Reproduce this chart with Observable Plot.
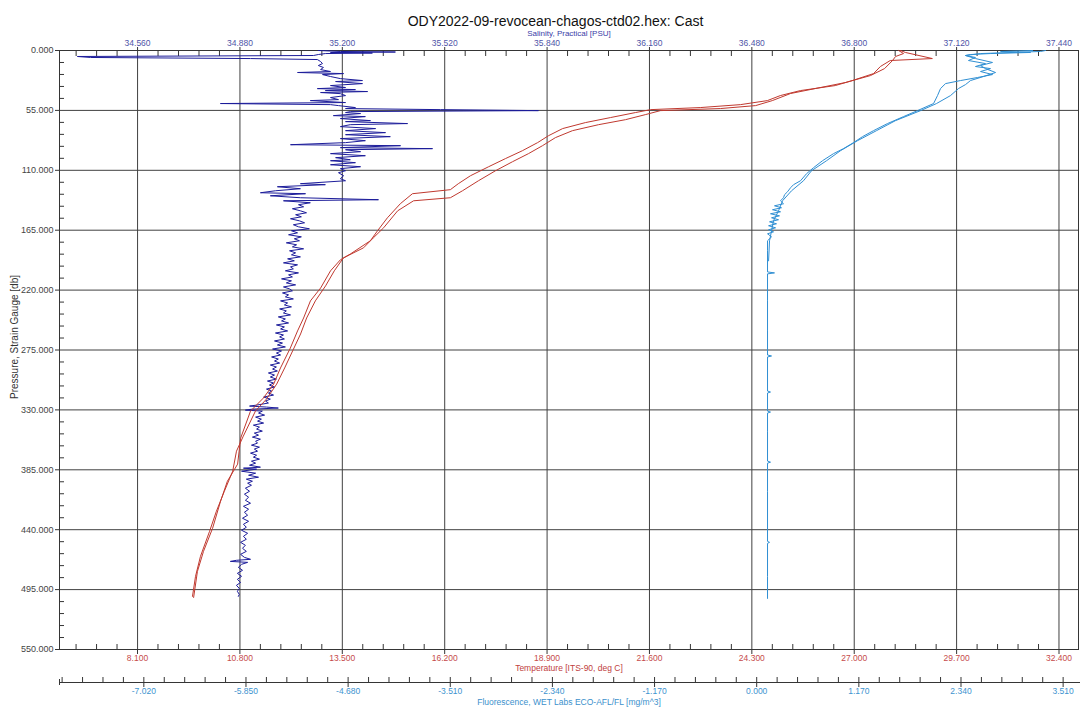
<!DOCTYPE html>
<html><head><meta charset="utf-8">
<script src="https://cdn.jsdelivr.net/npm/d3@7"></script>
<script src="https://cdn.jsdelivr.net/npm/@observablehq/plot@0.6"></script>
<style>html,body{margin:0;padding:0;background:#fff;} svg{display:block}</style>
</head><body><div id="chart"></div>
<script>
// ---- tick labels ----
const salinityTicks = [34.56, 34.88, 35.2, 35.52, 35.84, 36.16, 36.48, 36.8, 37.12, 37.44];
const temperatureTicks = [8.1, 10.8, 13.5, 16.2, 18.9, 21.6, 24.3, 27.0, 29.7, 32.4];
const fluorescenceTicks = [-7.02, -5.85, -4.68, -3.51, -2.34, -1.17, 0, 1.17, 2.34, 3.51];
const pressureTicks = [0, 55, 110, 165, 220, 275, 330, 385, 440, 495, 550];

// ---- axis extents ----
const salDomain = [34.316, 37.501];
const tempDomain = [6.043, 32.914];
const fluorDomain = [-7.986, 3.686];
const pressureDomain = [0, 550];

// ---- Salinity (one noisy trace) ----
const salPressure = [0,0.9,1.4,1.8,2.3,2.8,3.7,4.6,5.5,6.4,7.4,8.3,10.1,12.0,13.8,15.6,17.5,19.3,20.2,21.2,22.1,23.9,25.8,27.6,28.5,30.4,32.2,34.0,35.0,35.9,36.8,37.7,38.6,39.6,41.4,43.2,45.1,46.0,47.8,48.7,49.7,50.6,52.4,53.3,54.3,55.2,56.1,57.0,57.9,59.8,60.7,62.5,64.4,65.3,67.1,68.1,69.9,71.7,73.6,75.4,77.3,79.1,80.9,82.8,84.6,86.5,87.4,89.2,90.1,91.1,92.9,94.7,96.6,98.4,100.3,101.2,103.0,104.9,106.7,108.5,110.4,112.2,115.0,117.7,119.6,122.3,123.2,125.1,126.9,128.8,130.6,131.5,133.4,135.2,137.0,
  138.0,139.8,141.6,143.5,145.3,147.2,149.0,150.8,152.7,154.5,156.4,158.2,160.0,161.9,163.7,165.5,167.4,169.2,171.1,172.9,174.7,176.6,178.4,180.3,182.1,183.9,185.8,187.6,189.5,191.3,193.1,195.0,196.8,198.7,200.5,202.3,204.2,206.0,207.9,209.7,211.5,213.4,215.2,217.1,218.9,220.7,222.6,224.4,226.2,228.1,229.9,231.8,233.6,235.4,237.3,239.1,241.0,242.8,244.6,246.5,248.3,250.2,252.0,253.8,255.7,257.5,259.4,261.2,263.0,264.9,266.7,268.6,270.4,272.2,274.1,275.9,277.8,279.6,281.4,283.3,285.1,287.0,288.8,290.6,292.5,294.3,296.1,298.0,299.8,301.7,303.5,305.3,307.2,309.0,310.9,312.7,314.5,316.4,318.2,320.1,321.9,323.7,325.6,326.5,327.4,328.3,329.3,330.2,331.1,332.9,334.8,336.6,338.5,340.3,342.1,344.0,345.8,347.6,349.5,351.3,353.2,355.0,356.9,358.7,360.5,362.4,364.2,366.0,367.9,369.7,371.6,373.4,375.2,377.1,378.9,380.8,382.6,383.5,384.4,386.3,388.1,390.0,391.8,393.6,395.5,397.3,399.2,401.9,404.7,407.4,410.2,413.0,415.7,418.5,421.2,424.0,426.7,429.5,432.3,435.0,437.8,440.5,443.3,446.1,448.8,451.6,454.3,457.1,459.9,462.6,465.4,467.2,468.1,469.1,470.0,471.8,474.6,477.3,480.1,482.8,485.6,488.4,491.1,493.9,496.6,499.4,501.2];
const salinity = [35.125,35.194,35.366,35.163,35.294,35.147,35.125,35.110,34.372,34.413,34.913,35.122,35.132,35.138,35.125,35.141,35.132,35.163,35.060,35.204,35.138,35.163,35.194,35.263,35.179,35.263,35.163,35.210,35.122,35.241,35.147,35.279,35.132,35.194,35.210,35.163,35.188,35.100,35.210,34.819,35.163,35.188,35.241,35.210,35.507,35.813,35.225,35.210,35.257,35.172,35.272,35.194,35.288,35.210,35.404,35.225,35.194,35.304,35.210,35.335,35.210,35.350,35.194,35.272,35.210,35.038,35.382,35.194,35.482,35.210,35.257,35.163,35.272,35.179,35.225,35.163,35.241,35.163,35.257,35.194,35.210,35.188,35.204,35.194,35.210,35.069,35.147,34.997,35.069,34.991,34.944,35.085,34.975,35.069,35.313,
  35.016,35.100,35.063,35.079,35.044,35.069,35.088,35.054,35.072,35.038,35.066,35.082,35.047,35.063,35.097,35.041,35.060,35.032,35.072,35.050,35.066,35.025,35.057,35.044,35.079,35.035,35.054,35.041,35.069,35.029,35.050,35.016,35.060,35.038,35.047,35.022,35.063,35.032,35.044,35.010,35.041,35.025,35.054,35.016,35.035,35.044,35.013,35.032,35.022,35.047,35.007,35.029,35.019,35.041,35.004,35.025,35.016,35.038,35.000,35.022,35.010,35.032,34.994,35.019,35.007,35.029,34.991,35.016,35.004,35.019,34.988,35.013,34.997,35.022,34.982,35.010,34.994,35.007,34.979,35.000,34.988,35.004,34.975,34.994,34.982,34.997,34.969,34.988,34.975,34.994,34.966,34.985,34.972,34.988,34.963,34.979,34.969,34.985,34.954,34.975,34.960,34.969,34.932,34.910,34.963,35.000,34.919,34.897,34.950,34.938,34.957,34.929,34.947,34.935,34.954,34.922,34.941,34.932,34.950,34.925,34.938,34.919,34.944,34.929,34.935,34.916,34.941,34.925,34.935,34.913,34.932,34.922,34.941,34.916,34.929,34.910,34.944,34.891,34.932,34.885,34.929,34.907,34.938,34.900,34.919,34.904,34.916,34.897,34.910,34.894,34.907,34.897,34.913,34.891,34.907,34.894,34.904,34.888,34.907,34.891,34.900,34.885,34.904,34.891,34.900,34.882,34.897,34.888,34.900,34.882,34.894,34.913,34.869,34.850,34.904,34.885,34.875,34.888,34.872,34.885,34.872,34.882,34.869,34.878,34.872,34.878,34.875];

// ---- Temperature (down and up casts) ----
const tempDownPressure = [0,1.8,7.4,9.2,14.7,21.2,27.6,32.2,36.8,41.4,46.0,49.7,52.4,54.3,57.0,61.6,66.2,71.7,78.2,84.6,92.0,99.3,106.7,115.0,122.3,127.8,131.5,140.7,153.6,165.5,174.7,186.7,192.2,202.3,218.0,229.9,245.6,257.5,273.2,291.5,306.3,319.1,331.1,355.9,379.8,395.5,413.9,438.7,459.9,478.3,502.2];
const tempDown = [28.22,28.35,29.06,27.95,27.69,27.51,26.95,26.50,25.58,25.05,24.71,24.00,22.94,21.63,21.23,20.57,19.91,19.31,18.94,18.65,18.25,17.80,17.36,16.88,16.56,16.35,15.35,15.03,14.69,14.43,14.24,13.72,13.45,13.19,12.93,12.66,12.48,12.32,12.13,11.87,11.69,11.42,11.08,10.82,10.74,10.47,10.29,10.08,9.84,9.68,9.58];
const tempUpPressure = [0,2.8,5.5,9.2,16.6,23.0,29.4,34.9,39.5,46.0,50.6,53.3,55.2,58.9,63.5,68.1,73.6,80.0,87.4,94.7,102.1,110.4,119.6,128.8,135.2,138.0,147.2,162.8,172.0,181.2,190.4,202.3,216.1,229.9,245.6,260.3,275.9,291.5,306.3,320.1,331.1,354.1,367.9,386.3,404.7,423.1,441.5,464.5,482.8,501.2];
const tempUp = [28.17,28.30,28.09,28.01,27.80,27.43,26.77,25.98,25.32,24.84,24.40,23.47,21.89,21.49,20.97,20.26,19.57,19.12,18.78,18.41,17.99,17.54,17.09,16.67,16.35,15.38,14.96,14.59,14.32,14.06,13.53,13.29,13.06,12.79,12.56,12.40,12.19,11.98,11.77,11.50,11.21,10.89,10.71,10.61,10.39,10.18,10.00,9.76,9.63,9.55];

// ---- Fluorescence (down and up casts) ----
const fluorDownPressure = [0,0.9,1.8,2.8,3.7,4.6,6.4,9.2,12.0,14.7,16.6,19.3,22.1,24.8,27.6,30.4,34.9,41.4,48.7,55.2,60.7,67.1,73.6,79.1,84.6,90.1,94.7,101.2,107.6,113.1,119.6,123.2,126.0,129.7,132.4,135.2,138.0,140.7,142.6,144.4,146.2,148.1,149.9,151.8,153.6,155.4,157.3,159.1,160.9,162.8,164.6,166.5,168.3,171.1,174.7,183.9,203.3,204.2,205.1,229.9,257.5,279.6,280.5,281.4,312.7,313.6,314.5,331.1,332.0,332.9,349.5,377.0,378.0,378.9,404.7,450.7,451.6,452.5,482.8,503.1];
const fluorDown = [3.160,2.793,3.137,2.678,2.449,2.392,2.506,2.426,2.621,2.506,2.678,2.564,2.701,2.529,2.335,2.163,2.106,2.071,2.026,1.842,1.682,1.498,1.338,1.212,1.109,0.994,0.880,0.754,0.651,0.571,0.502,0.422,0.388,0.353,0.319,0.307,0.273,0.307,0.204,0.284,0.181,0.273,0.158,0.261,0.170,0.250,0.147,0.227,0.136,0.216,0.136,0.193,0.124,0.170,0.124,0.124,0.124,0.204,0.124,0.124,0.124,0.124,0.170,0.124,0.124,0.158,0.124,0.124,0.158,0.124,0.124,0.124,0.158,0.124,0.124,0.124,0.147,0.124,0.124,0.124];
const fluorUpPressure = [193.1,174.7,165.6,156.3,147.2,138.0,128.8,119.6,110.4,101.2,92.0,82.8,73.6,64.4,55.2,48.7,41.4,34.9,31.3,27.6,23.9,20.2,16.6,13.8,11.0,7.4,4.6,2.8,0.9,0];
const fluorUp = [0.136,0.147,0.170,0.193,0.250,0.296,0.399,0.536,0.628,0.800,0.960,1.155,1.372,1.590,1.877,2.060,2.220,2.312,2.392,2.449,2.598,2.736,2.621,2.564,2.701,2.506,2.392,2.564,3.251,3.308];

// ---- linear maps of the secondary axes onto the shared x scale ----
const lin = (d0) => v => salDomain[0] + (v - d0[0]) * (salDomain[1] - salDomain[0]) / (d0[1] - d0[0]);
const tToS = lin(tempDomain);
const fToS = lin(fluorDomain);

const salData = salPressure.map((p, i) => ({p, v: salinity[i]}));
const tDownData = tempDownPressure.map((p, i) => ({p, v: tempDown[i]}));
const tUpData = tempUpPressure.map((p, i) => ({p, v: tempUp[i]}));
const fDownData = fluorDownPressure.map((p, i) => ({p, v: fluorDown[i]}));
const fUpData = fluorUpPressure.map((p, i) => ({p, v: fluorUp[i]}));

// minor ticks (5 subdivisions)
const salMinor = d3.range(-3, 46).filter(k => k % 5 !== 0).map(k => salinityTicks[0] + k * 0.064);
const tempMinor = d3.range(-3, 46).filter(k => k % 5 !== 0).map(k => temperatureTicks[0] + k * 0.54);
const fluorMinor = d3.range(-4, 46).filter(k => k % 5 !== 0).map(k => fluorescenceTicks[0] + k * 0.234);
const pMinor = d3.range(0, 551, 11).filter(v => v % 55 !== 0);

const tempPos = temperatureTicks.map(tToS);
const fluorPos = fluorescenceTicks.map(fToS);

const W = 1080, H = 714, ML = 59, MR = 2, MT = 50, MB = 65;
const FH = H - MT - MB; // frame height
const FW = W - ML - MR;
const ink = "#353535";
const salColor = "#1c1c9a", tempColor = "#c0392f", fluorColor = "#2f8fd3";

const chart = Plot.plot({
  width: W, height: H,
  marginLeft: ML, marginRight: MR, marginTop: MT, marginBottom: MB,
  style: {fontFamily: "'Liberation Sans', Arial, sans-serif", background: "#fff", overflow: "visible"},
  x: {domain: salDomain},
  y: {domain: pressureDomain, reverse: true},
  marks: [
    Plot.gridX(salinityTicks, {stroke: "#404040", strokeOpacity: 1}),
    Plot.gridY(pressureTicks.slice(1, -1), {stroke: "#404040", strokeOpacity: 1}),
    Plot.frame({stroke: ink}),
    // top axis ticks
    Plot.tickX(salinityTicks, {x: d => d, insetTop: -3, insetBottom: FH, stroke: ink}),
    Plot.tickX(salMinor, {x: d => d, insetBottom: FH - 6, stroke: ink}),
    // bottom (temperature) ticks
    Plot.tickX(tempPos, {x: d => d, insetTop: FH, insetBottom: -5, stroke: ink}),
    Plot.tickX(tempMinor, {x: tToS, insetTop: FH - 5, stroke: ink}),
    // left minor ticks
    Plot.tickY(pMinor, {y: d => d, insetRight: FW - 5, stroke: ink}),
    // fluorescence axis below the frame
    Plot.ruleY([pressureDomain[1]], {dy: 33, insetRight: -2, stroke: ink}),
    Plot.tickX(fluorMinor, {x: fToS, insetTop: FH + 28, insetBottom: -33, stroke: ink}),
    Plot.tickX(fluorPos, {x: d => d, insetTop: FH + 28, insetBottom: -38, stroke: ink}),
    Plot.tickX([fluorDomain[0]], {x: fToS, insetTop: FH + 30, insetBottom: -36, stroke: ink}),
    // data
    Plot.line(salData, {x: "v", y: "p", stroke: salColor, strokeWidth: 1}),
    Plot.line(tDownData, {x: d => tToS(d.v), y: "p", stroke: tempColor, strokeWidth: 1}),
    Plot.line(tUpData, {x: d => tToS(d.v), y: "p", stroke: tempColor, strokeWidth: 1}),
    Plot.line(fDownData, {x: d => fToS(d.v), y: "p", stroke: fluorColor, strokeWidth: 1}),
    Plot.line(fUpData, {x: d => fToS(d.v), y: "p", stroke: fluorColor, strokeWidth: 1}),
    // axes labels
    Plot.axisX(salinityTicks, {anchor: "top", tickSize: 0, tickPadding: 5, tickFormat: d => d.toFixed(3), fill: "#4f55a8", fontSize: 8.5, label: null}),
    Plot.axisX(tempPos, {anchor: "bottom", tickSize: 0, tickPadding: 5, tickFormat: s => temperatureTicks[tempPos.indexOf(s)].toFixed(3), fill: "#c64b4b", fontSize: 8.5, label: null}),
    Plot.axisX(fluorPos, {anchor: "bottom", tickSize: 0, tickPadding: 38.5, tickFormat: s => fluorescenceTicks[fluorPos.indexOf(s)].toFixed(3), fill: "#3d93cf", fontSize: 8.5, label: null}),
    Plot.axisY(pressureTicks, {anchor: "left", tickSize: 4, tickPadding: 2, tickFormat: d => d.toFixed(3), fill: "#444", stroke: ink, fontSize: 9, label: null}),
    // titles
    Plot.text(["ODY2022-09-revocean-chagos-ctd02.hex: Cast"], {text: d => d, frameAnchor: "top", dx: -13.5, dy: -34.5, fontSize: 14, fill: "#111"}),
    Plot.text(["Salinity, Practical [PSU]"], {text: d => d, frameAnchor: "top", dy: -20.5, fontSize: 8, fill: "#3b40a8"}),
    Plot.text(["Temperature [ITS-90, deg C]"], {text: d => d, frameAnchor: "bottom", dy: 21, fontSize: 8.5, fill: "#c04040"}),
    Plot.text(["Fluorescence, WET Labs ECO-AFL/FL [mg/m^3]"], {text: d => d, frameAnchor: "bottom", dy: 55.5, fontSize: 8.5, fill: "#3a90cc"}),
    Plot.text(["Pressure, Strain Gauge [db]"], {text: d => d, frameAnchor: "left", textAnchor: "middle", dx: -45, dy: -13, rotate: -90, fontSize: 10, fill: "#333"})
  ]
});
document.getElementById("chart").append(chart);
</script>
</body></html>
